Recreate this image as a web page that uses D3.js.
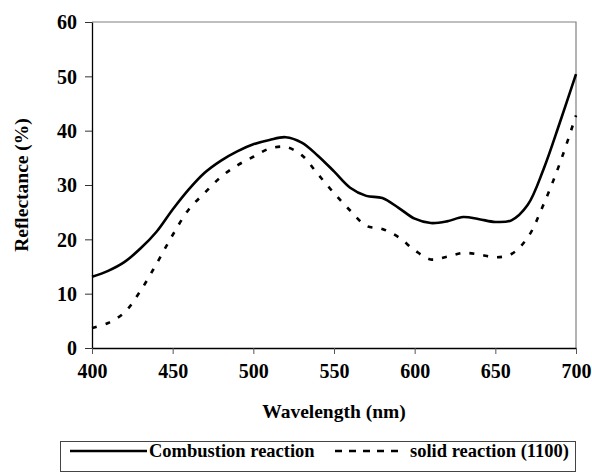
<!DOCTYPE html>
<html>
<head>
<meta charset="utf-8">
<script src="https://cdn.jsdelivr.net/npm/d3@7"></script>
<style>
  body { margin: 0; background: #fff; }
  svg { display: block; }
</style>
</head>
<body>
<script>
// wavelengths (nm) and reflectance (%)
const wavelengths = [400, 410, 420, 430, 440, 450, 460, 470, 480, 490, 500, 510, 520, 530, 540, 550,
  560, 570, 580, 590, 600, 610, 620, 630, 640, 650, 660, 670, 680, 690, 700];
const combustion = [13.1, 14.2, 15.8, 18.3, 21.4, 25.5, 29.2, 32.3, 34.5, 36.2, 37.5, 38.3, 38.8, 37.8, 35.4, 32.5,
  29.5, 28.0, 27.6, 25.8, 23.8, 23.0, 23.3, 24.1, 23.7, 23.2, 23.5, 26.3, 33.0, 41.5, 50.4];
const solid = [3.7, 4.6, 6.5, 10.5, 15.5, 20.8, 25.5, 28.6, 31.5, 33.6, 35.2, 36.7, 37.0, 35.5, 32.0, 28.5,
  25.3, 22.5, 21.9, 20.4, 18.0, 16.3, 16.8, 17.5, 17.2, 16.7, 17.3, 20.3, 26.5, 34.0, 42.8];
const xTicks = [400, 450, 500, 550, 600, 650, 700];
const yTicks = [0, 10, 20, 30, 40, 50, 60];
const seriesNames = ["Combustion reaction", "solid reaction (1100)"];

const width = 592, height = 473;
const margin = { top: 22, right: 16, bottom: 125, left: 92 };
const FONT = "Liberation Serif";

const svg = d3.select("body").append("svg")
  .attr("width", width)
  .attr("height", height);

const x = d3.scaleLinear().domain([400, 700]).range([margin.left, width - margin.right]);
const y = d3.scaleLinear().domain([0, 60]).range([height - margin.bottom, margin.top]);

// helper so every label gets the serif face
const label = (sel, size) => sel
  .attr("font-family", FONT)
  .attr("font-weight", "bold")
  .attr("font-size", size)
  .attr("fill", "#000");

// frame: top and right edges in gray
svg.append("path")
  .attr("d", `M${x(400)},${y(60)}H${x(700)}V${y(0)}`)
  .attr("fill", "none")
  .attr("stroke", "#808080")
  .attr("stroke-width", 1.2);

// y axis
const yAxis = svg.append("g")
  .attr("transform", `translate(${x(400)},0)`)
  .call(d3.axisLeft(y).tickValues(yTicks).tickSize(7).tickSizeOuter(0).tickPadding(8));
yAxis.select(".domain").attr("stroke", "#000").attr("stroke-width", 1.3);
yAxis.selectAll(".tick line").attr("stroke", "#333");
label(yAxis.selectAll(".tick text"), 20).attr("dy", "0.34em");

// x axis
const xAxis = svg.append("g")
  .attr("transform", `translate(0,${y(0)})`)
  .call(d3.axisBottom(x).tickValues(xTicks).tickSize(6).tickSizeOuter(0).tickPadding(10));
xAxis.select(".domain").attr("stroke", "#000").attr("stroke-width", 1.3);
xAxis.selectAll(".tick line").attr("stroke", "#555");
label(xAxis.selectAll(".tick text"), 20);

// axis titles
label(svg.append("text"), 19.5)
  .attr("x", (x(400) + x(700)) / 2)
  .attr("y", 418)
  .attr("text-anchor", "middle")
  .text("Wavelength (nm)");

label(svg.append("text"), 19.5)
  .attr("transform", `translate(28,${(y(0) + y(60)) / 2}) rotate(-90)`)
  .attr("text-anchor", "middle")
  .text("Reflectance (%)");

// curves
const line = (vals) => d3.line()
  .x((d, i) => x(wavelengths[i]))
  .y(d => y(d))
  .curve(d3.curveCatmullRom.alpha(0.5))(vals);

svg.append("path")
  .attr("d", line(combustion))
  .attr("fill", "none")
  .attr("stroke", "#000")
  .attr("stroke-width", 2.6);

svg.append("path")
  .attr("d", line(solid))
  .attr("fill", "none")
  .attr("stroke", "#000")
  .attr("stroke-width", 2.6)
  .attr("stroke-dasharray", "5,9");

// legend
const legend = svg.append("g");
legend.append("rect")
  .attr("x", 60.5).attr("y", 441.5)
  .attr("width", 515).attr("height", 30)
  .attr("fill", "#fff")
  .attr("stroke", "#444")
  .attr("stroke-width", 1);

legend.append("line")
  .attr("x1", 70).attr("x2", 147).attr("y1", 451).attr("y2", 451)
  .attr("stroke", "#000").attr("stroke-width", 2.6);
label(legend.append("text"), 18.5)
  .attr("x", 149).attr("y", 457)
  .text(seriesNames[0]);

legend.append("line")
  .attr("x1", 335).attr("x2", 398).attr("y1", 451).attr("y2", 451)
  .attr("stroke", "#000").attr("stroke-width", 2.6)
  .attr("stroke-dasharray", "7,7");
label(legend.append("text"), 18.5)
  .attr("x", 410).attr("y", 457)
  .text(seriesNames[1]);
</script>
</body>
</html>
